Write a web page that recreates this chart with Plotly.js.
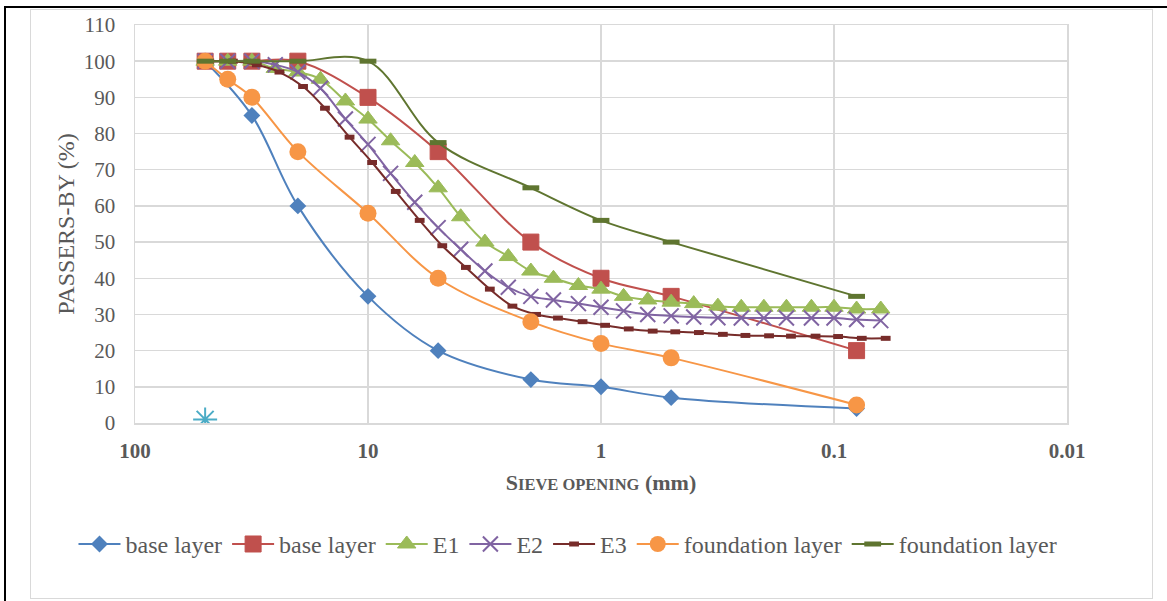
<!DOCTYPE html>
<html>
<head>
<meta charset="utf-8">
<script src="https://cdn.plot.ly/plotly-3.0.1.min.js"></script>
<style>
  html, body { margin: 0; padding: 0; background: #ffffff; }
  #wrap { position: relative; width: 1167px; height: 601px; overflow: hidden; }
  #blackTop { position: absolute; left: 4px; top: 6px; width: 1163px; height: 2px; background: #000; }
  #blackLeft { position: absolute; left: 4px; top: 6px; width: 2px; height: 595px; background: #000; }
  #grayBox { position: absolute; left: 30px; top: 9px; width: 1121px; height: 588px; border: 1px solid #d9d9d9; }
  #chart { position: absolute; left: 0; top: 0; width: 1167px; height: 601px; }
</style>
</head>
<body>
<div id="wrap">
  <div id="blackTop"></div>
  <div id="blackLeft"></div>
  <div id="grayBox"></div>
  <div id="chart"></div>
</div>
<script>
// Sieve openings (mm)
const sievesMain = [50, 31.5, 20, 10, 5, 2, 1, 0.5, 0.08];
const sievesMain2 = [50, 40, 31.5, 20, 10, 5, 2, 1, 0.5, 0.08];
const sievesFine = [50, 40, 31.5, 25, 20, 16, 12.5, 10, 8, 6.3, 5, 4, 3.15, 2.5, 2, 1.6, 1.25, 1, 0.8, 0.63, 0.5, 0.4, 0.315, 0.25, 0.2, 0.16, 0.125, 0.1, 0.08, 0.063];
const sievesE3 = [48, 38, 30, 24, 19, 15.3, 12, 9.6, 7.6, 6, 4.8, 3.8, 3, 2.4, 1.9, 1.53, 1.2, 0.96, 0.76, 0.6, 0.48, 0.38, 0.3, 0.24, 0.19, 0.153, 0.12, 0.096, 0.076, 0.06];

// Passing percentages
const baseLayerA = [100, 85, 60, 35, 20, 12, 10, 7, 4];
const baseLayerB = [100, 100, 100, 100, 90, 75, 50, 40, 35, 20];
const e1 = [100, 100, 100, 98, 97, 95, 89, 84, 78, 72, 65, 57, 50, 46, 42, 40, 38, 37, 35, 34, 33.4, 33, 32.3, 32, 32, 32, 32, 32, 31.5, 31.5];
const e2 = [100, 100, 100, 99, 97, 92.5, 84, 77, 69, 61, 54, 48, 42, 37.5, 35, 34, 33, 32, 31, 30, 29.6, 29.3, 29.1, 29, 29, 29, 29, 29, 28.6, 28.3];
const e3 = [100, 100, 99, 97, 93, 87, 79, 72, 64, 56, 49, 43, 37, 32.3, 30, 29, 28, 27, 26, 25.4, 25.2, 25, 24.5, 24.2, 24.1, 24, 24, 23.9, 23.4, 23.4];
const foundationA = [100, 95, 90, 75, 58, 40, 28, 22, 18, 5];
const foundationB = [100, 100, 100, 100, 100, 77.5, 65, 56, 50, 35];
const extraX = [50];
const extraY = [1];

const xTickVals = [100, 10, 1, 0.1, 0.01];
const xTickText = ['100', '10', '1', '0.1', '0.01'];

const FAM = 'Liberation Serif, Times New Roman, serif';
const GREY = '#595959';
const lw = 2;
const traces = [
  { x: sievesMain, y: baseLayerA, name: 'base layer', mode: 'lines+markers',
    line: { color: '#4F81BD', width: lw, shape: 'spline', smoothing: 1 },
    marker: { symbol: 'diamond', size: 13, color: '#4F81BD' } },
  { x: sievesMain2, y: baseLayerB, name: 'base layer', mode: 'lines+markers',
    line: { color: '#C0504D', width: lw, shape: 'spline', smoothing: 1 },
    marker: { symbol: 'square', size: 16, color: '#C0504D', line: { width: 1, color: '#C0504D' } } },
  { x: sievesFine, y: e1, name: 'E1', mode: 'lines+markers',
    line: { color: '#9BBB59', width: lw, shape: 'spline', smoothing: 1 },
    marker: { symbol: 'triangle-up', size: 16, color: '#9BBB59', line: { width: 1, color: '#9BBB59' } } },
  { x: sievesFine, y: e2, name: 'E2', mode: 'lines+markers',
    line: { color: '#8064A2', width: lw, shape: 'spline', smoothing: 1 },
    marker: { symbol: 'x-thin-open', size: 15, color: '#8064A2', line: { width: 2, color: '#8064A2' } } },
  { x: sievesE3, y: e3, name: 'E3', mode: 'lines+markers',
    line: { color: '#772C2A', width: lw, shape: 'spline', smoothing: 1 },
    marker: { symbol: 'line-ew-open', size: 7, color: '#772C2A', line: { width: 5, color: '#772C2A' } } },
  { x: sievesMain2, y: foundationA, name: 'foundation layer', mode: 'lines+markers',
    line: { color: '#F79646', width: lw, shape: 'spline', smoothing: 1 },
    marker: { symbol: 'circle', size: 17, color: '#F79646' } },
  { x: sievesMain2, y: foundationB, name: 'foundation layer', mode: 'lines+markers',
    line: { color: '#5F7530', width: lw, shape: 'spline', smoothing: 1 },
    marker: { symbol: 'line-ew-open', size: 12, color: '#5F7530', line: { width: 5, color: '#5F7530' } } },
  { x: extraX, y: extraY, name: '', mode: 'markers', showlegend: false,
    marker: { symbol: 'asterisk-open', size: 20, color: '#4BACC6', line: { width: 2, color: '#4BACC6' } } }
];

const layout = {
  width: 1167, height: 601,
  margin: { l: 135, r: 100, t: 25, b: 177.5 },
  paper_bgcolor: 'rgba(0,0,0,0)',
  plot_bgcolor: 'rgba(0,0,0,0)',
  font: { family: FAM, color: GREY, size: 20 },
  xaxis: {
    type: 'log', range: [2, -2],
    tickvals: xTickVals, ticktext: xTickText,
    tickfont: { family: FAM, size: 21, weight: 'bold', color: GREY },
    showgrid: true, gridcolor: '#d9d9d9', gridwidth: 1.5,
    showline: true, mirror: true, linecolor: '#d9d9d9', linewidth: 1.5,
    ticks: '', ticklabelstandoff: 8,
    title: { text: 'S<span style="font-size:16.5px">IEVE OPENING</span> (mm)', standoff: 13,
             font: { family: FAM, size: 22, weight: 'bold', color: GREY } }
  },
  yaxis: {
    range: [0, 110], dtick: 10,
    tickfont: { family: FAM, size: 21, color: GREY },
    showgrid: true, gridcolor: '#d9d9d9', gridwidth: 1.5,
    showline: true, mirror: true, linecolor: '#d9d9d9', linewidth: 1.5,
    zeroline: false,
    ticks: '', ticklabelstandoff: 14,
    title: { text: 'PASSERS-BY (%)', standoff: 2, font: { family: FAM, size: 24, color: GREY } }
  },
  showlegend: true,
  legend: {
    orientation: 'h', x: -0.066, xanchor: 'left', y: -0.305, yanchor: 'middle',
    font: { family: FAM, size: 24, color: GREY }, bgcolor: 'rgba(0,0,0,0)',
    traceorder: 'normal', itemwidth: 42
  }
};

Plotly.newPlot('chart', traces, layout, { displayModeBar: false, staticPlot: true });
</script>
</body>
</html>
